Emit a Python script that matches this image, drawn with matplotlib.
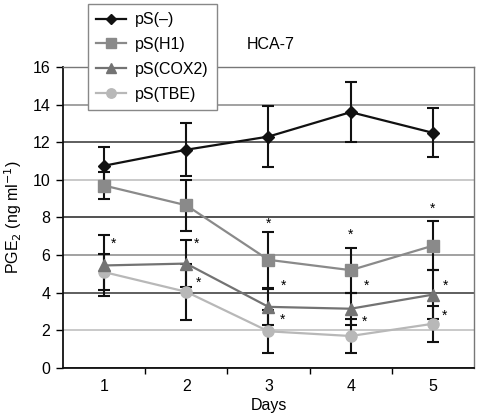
import matplotlib
matplotlib.use("Agg")
import matplotlib.pyplot as plt
import numpy as np

plt.rcParams['font.family'] = ['Liberation Sans', 'DejaVu Sans']

days = [1, 2, 3, 4, 5]
series_names = ["pS(\u2013)", "pS(H1)", "pS(COX2)", "pS(TBE)"]
ps_neg = [10.75, 11.6, 12.3, 13.6, 12.5]
ps_neg_err = [1.0, 1.4, 1.6, 1.6, 1.3]
ps_h1 = [9.7, 8.65, 5.75, 5.2, 6.5]
ps_h1_err = [0.7, 1.35, 1.5, 1.2, 1.3]
ps_cox2 = [5.45, 5.55, 3.25, 3.15, 3.9]
ps_cox2_err = [1.6, 1.25, 0.95, 0.85, 1.3]
ps_tbe = [5.1, 4.05, 1.95, 1.7, 2.35]
ps_tbe_err = [0.95, 1.5, 1.15, 0.9, 0.95]
yticks = [0, 2, 4, 6, 8, 10, 12, 14, 16]

# significance stars: (series index, day index, dx px, dy px)
stars = [(2, 0, 10, -22), (2, 1, 10, -20), (3, 1, 12, -9),
         (1, 2, 0, -36), (2, 2, 15, -21), (3, 2, 14, -12),
         (1, 3, 0, -35), (2, 3, 16, -23), (3, 3, 14, -14),
         (1, 4, 0, -37), (2, 4, 13, -9), (3, 4, 12, -8)]

values = [ps_neg, ps_h1, ps_cox2, ps_tbe]
errors = [ps_neg_err, ps_h1_err, ps_cox2_err, ps_tbe_err]
colors = ["#111111", "#8a8a8a", "#737373", "#b8b8b8"]
markers = ["D", "s", "^", "o"]
msizes = [6, 8, 8.5, 8]

FS = 11.5

fig = plt.figure(figsize=(4.8, 4.16), dpi=100)
ax = fig.add_axes([0.131, 0.1154, 0.8565, 0.7236])

for v, e in zip(values, errors):
    ax.errorbar(days, v, yerr=e, fmt='none', ecolor='#111111', elinewidth=1.5,
                capsize=4, capthick=1.5, zorder=2)
for i, (v, c, m, ms) in enumerate(zip(values, colors, markers, msizes)):
    ax.plot(days, v, color=c, marker=m, markersize=ms, linewidth=1.6,
            markeredgecolor=c, label=series_names[i], zorder=3 + (3 - i) * 0.1)

px = 72 / 100
for si, di, dx, dy in stars:
    ax.annotate('*', xy=(days[di], values[si][di]), xytext=(dx * px, -dy * px),
                textcoords='offset points', ha='center', va='center', fontsize=10)

ax.set_xlim(0.5, 5.5)
ax.set_ylim(0, 16)
ax.set_yticks(yticks)
ax.set_xticks(days)
ax.set_xticks([1.5, 2.5, 3.5, 4.5], minor=True)
ax.tick_params(axis='x', which='major', length=0, labelsize=FS, pad=8)
ax.tick_params(axis='x', which='minor', length=4, width=1, direction='out')
ax.tick_params(axis='y', length=5, width=1, labelsize=FS, direction='out', pad=4)
ax.yaxis.grid(True, linewidth=1.1)
gcols = ["#222222", "#bbbbbb", "#333333", "#888888", "#222222", "#bbbbbb", "#333333", "#888888", "#333333"]
for gl, gc in zip(ax.yaxis.get_gridlines(), gcols):
    gl.set_color(gc)
ax.set_axisbelow(True)
for s in ['left', 'bottom']:
    ax.spines[s].set_color('#111111')
    ax.spines[s].set_linewidth(1.3)
for s in ['top', 'right']:
    ax.spines[s].set_color('#777777')
    ax.spines[s].set_linewidth(1.0)

ax.set_xlabel('Days', fontsize=FS, labelpad=3)
ax.set_ylabel('PGE$_2$ (ng ml$^{-1}$)', fontsize=FS, labelpad=6)

fig.text(0.564, 0.893, 'HCA-7', fontsize=FS, ha='center', va='center')

leg = ax.legend(loc='upper left', bbox_to_anchor=(0.183, 0.99), bbox_transform=fig.transFigure,
                borderaxespad=0, fancybox=False, edgecolor='#888888', framealpha=1,
                fontsize=FS, handlelength=1.9, labelspacing=0.62, borderpad=0.5,
                handletextpad=0.55, markerscale=0.85)
leg.get_frame().set_linewidth(1.0)
leg.set_zorder(10)

fig.savefig('out.png', dpi=100)
